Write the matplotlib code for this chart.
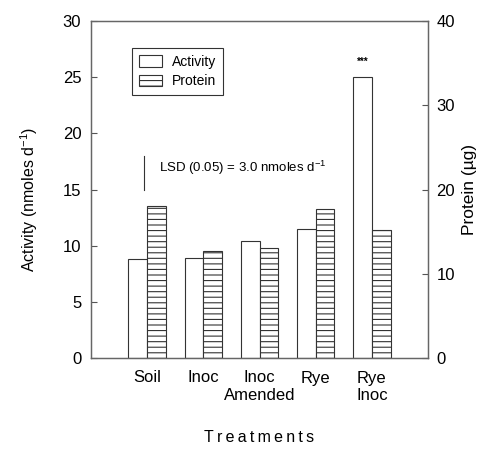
import matplotlib
matplotlib.use("Agg")
import matplotlib.pyplot as plt
import numpy as np
from matplotlib.patches import Patch

plt.rcParams['font.family'] = ['Liberation Sans', 'DejaVu Sans']
plt.rcParams['mathtext.fontset'] = 'custom'
plt.rcParams['mathtext.rm'] = 'Liberation Sans'
plt.rcParams['mathtext.it'] = 'Liberation Sans:italic'
plt.rcParams['mathtext.bf'] = 'Liberation Sans:bold'
plt.rcParams['hatch.linewidth'] = 0.8
plt.rcParams['hatch.color'] = '#444444'

categories = ["Soil", "Inoc", "Inoc\nAmended", "Rye", "Rye\nInoc"]
activity = [8.8, 8.9, 10.4, 11.5, 25.0]
protein = [18.0, 12.7, 13.0, 17.7, 15.2]
left_ticks = [0, 5, 10, 15, 20, 25, 30]
right_ticks = [0, 10, 20, 30, 40]
lsd_value = 3.0

W, H = 484, 449
fig = plt.figure(figsize=(W / 100, H / 100), dpi=100)
ax = fig.add_axes([91 / W, 1 - 358 / H, (428 - 91) / W, (358 - 21) / H])
ax2 = ax.twinx()

x = np.arange(1, len(categories) + 1)
bw = 0.333
edge = '#333333'
ax.bar(x - bw / 2, activity, width=bw, facecolor='white', edgecolor=edge, linewidth=0.8, zorder=2)
ax2.bar(x + bw / 2, protein, width=bw, facecolor='white', edgecolor=edge, linewidth=0.8,
        hatch='---', zorder=2)

ax.set_xlim(0, 6)
ax.set_ylim(0, 30)
ax2.set_ylim(0, 40)
ax.set_yticks(left_ticks)
ax2.set_yticks(right_ticks)
ax.set_xticks(x)
ax.set_xticklabels(categories, fontsize=12, linespacing=1.25)
ax.tick_params(axis='x', length=0, pad=9)
ax.tick_params(axis='y', direction='in', length=4, width=0.8, labelsize=12, pad=7, color='#555555')
ax2.tick_params(axis='y', direction='in', length=4, width=0.8, labelsize=12, pad=6, color='#555555')

for a in (ax, ax2):
    for s in a.spines.values():
        s.set_color('#666666')
        s.set_linewidth(0.9)

ax.set_ylabel(r'Activity (nmoles d$^{\mathregular{-1}}$)', fontsize=11.5)
ax.yaxis.set_label_coords(-0.15, 0.469)
ax2.set_ylabel('Protein (µg)', fontsize=12.5)
ax2.yaxis.set_label_coords(1.10, 0.5)
ax.set_xlabel('\u2009'.join('Treatments'), fontsize=11.5)
ax.xaxis.set_label_coords(0.5, -0.215)

# significance marker
ax.text(x[4] - bw / 2, activity[4] + 0.9, '***', ha='center', va='bottom', fontsize=7,
        fontweight='bold')

# LSD bar
lsd_x = 0.95
ax.plot([lsd_x, lsd_x], [15.0, 15.0 + lsd_value], color='#333333', lw=0.8)
ax.text(1.21, 16.9, r'LSD (0.05) = 3.0 nmoles d$^{\mathregular{-1}}$', fontsize=9.5,
        ha='left', va='center')

handles = [Patch(facecolor='white', edgecolor=edge, linewidth=0.8, label='Activity'),
           Patch(facecolor='white', edgecolor=edge, linewidth=0.8, hatch='---', label='Protein')]
leg = ax.legend(handles=handles, loc='upper left', bbox_to_anchor=(0.121, 0.921),
                fontsize=10, fancybox=False, frameon=True, edgecolor='black',
                handlelength=1.7, handleheight=0.9, borderpad=0.5, labelspacing=0.4,
                handletextpad=0.7, borderaxespad=0)
leg.get_frame().set_linewidth(0.8)
leg.set_zorder(5)

fig.savefig('out.png', dpi=100)
